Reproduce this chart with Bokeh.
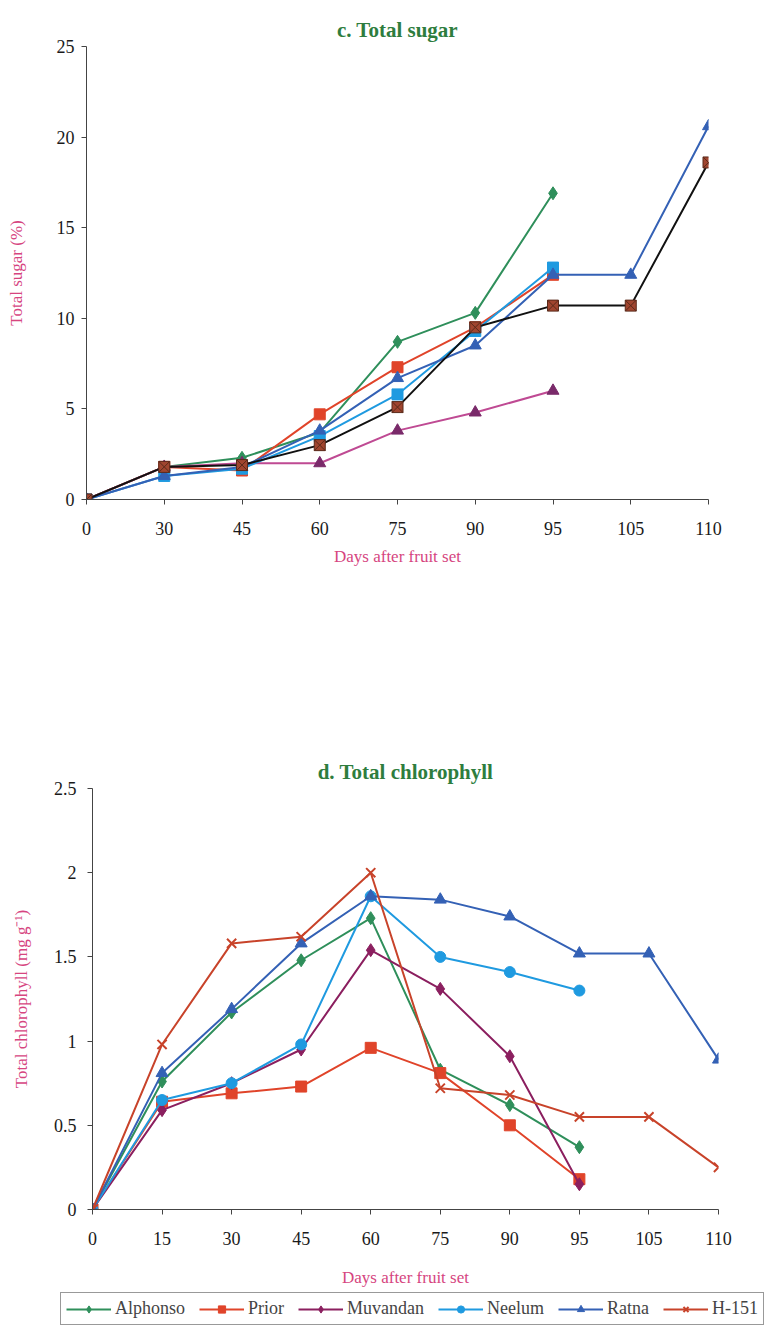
from bokeh.plotting import figure
from bokeh.layouts import column, row
from bokeh.models import Range1d, FixedTicker, Legend, LegendItem
from bokeh.embed import file_html
from bokeh.resources import INLINE

# ---------------- data ----------------
sugar_days = ["0", "30", "45", "60", "75", "90", "95", "105", "110"]
sugar_alphonso = [0, 1.8, 2.3, 3.7, 8.7, 10.3, 16.9]
sugar_prior = [0, 1.8, 1.6, 4.7, 7.3, 9.5, 12.4]
sugar_muvandan = [0, 1.8, 2.0, 2.0, 3.8, 4.8, 6.0]
sugar_neelum = [0, 1.3, 1.7, 3.5, 5.8, 9.3, 12.8]
sugar_ratna = [0, 1.3, 1.8, 3.8, 6.7, 8.5, 12.4, 12.4, 20.6]
sugar_h151 = [0, 1.8, 1.9, 3.0, 5.1, 9.5, 10.7, 10.7, 18.6]
sugar_yticks = [0, 5, 10, 15, 20, 25]

chl_days = ["0", "15", "30", "45", "60", "75", "90", "95", "105", "110"]
chl_alphonso = [0, 0.76, 1.17, 1.48, 1.73, 0.83, 0.62, 0.37]
chl_prior = [0, 0.64, 0.69, 0.73, 0.96, 0.81, 0.50, 0.18]
chl_muvandan = [0, 0.59, 0.75, 0.95, 1.54, 1.31, 0.91, 0.15]
chl_neelum = [0, 0.65, 0.75, 0.98, 1.86, 1.50, 1.41, 1.30]
chl_ratna = [0, 0.81, 1.19, 1.58, 1.86, 1.84, 1.74, 1.52, 1.52, 0.89]
chl_h151 = [0, 0.98, 1.58, 1.62, 2.0, 0.72, 0.68, 0.55, 0.55, 0.25]
chl_yticks = [0, 0.5, 1, 1.5, 2, 2.5]
chl_ylabels = ["0", "0.5", "1", "1.5", "2", "2.5"]

names = ["Alphonso", "Prior", "Muvandan", "Neelum", "Ratna", "H-151"]

SERIF = "Liberation Serif"
TITLE_C = "#2e7d3e"
LABEL_C = "#d6457f"


def style(p, days, yticks, ylabels, xl_standoff, yt_standoff, yl_standoff):
    p.xaxis.ticker = FixedTicker(ticks=list(range(len(days))))
    p.xaxis.major_label_overrides = {i: d for i, d in enumerate(days)}
    p.yaxis.ticker = FixedTicker(ticks=yticks)
    p.yaxis.major_label_overrides = {t: l for t, l in zip(yticks, ylabels)}
    for ax in (p.xaxis[0], p.yaxis[0]):
        ax.major_label_text_font = SERIF
        ax.major_label_text_font_size = "18px"
        ax.major_label_text_color = "#1a1a1a"
        ax.axis_label_text_font = SERIF
        ax.axis_label_text_font_size = "17px"
        ax.axis_label_text_font_style = "normal"
        ax.axis_label_text_color = LABEL_C
        ax.minor_tick_line_color = None
        ax.major_tick_in = 0
        ax.major_tick_out = 5
        ax.axis_line_color = "#444444"
        ax.major_tick_line_color = "#444444"
    p.xaxis.major_label_standoff = 17
    p.yaxis.major_label_standoff = yt_standoff
    p.xaxis.axis_label_standoff = xl_standoff
    p.yaxis.axis_label_standoff = yl_standoff
    p.grid.visible = False
    p.outline_line_color = None
    p.title.text_font = SERIF
    p.title.text_font_size = "21px"
    p.title.text_font_style = "bold"
    p.title.text_color = TITLE_C
    p.title.align = "center"
    p.title.standoff = 10


# ---------------- top: total sugar ----------------
p1 = figure(width=769, height=600, output_backend="svg", toolbar_location=None,
            x_range=Range1d(0, len(sugar_days) - 1), y_range=Range1d(0, 25),
            title="c. Total sugar", x_axis_label="Days after fruit set",
            y_axis_label="Total sugar (%)",
            min_border_left=86, min_border_right=61, min_border_top=46, min_border_bottom=101)
style(p1, sugar_days, sugar_yticks, [str(t) for t in sugar_yticks], 9, 7, 28)

top_series = [
    (sugar_alphonso, "#2f8f5b", "diamond", "#2f8f5b", 13),
    (sugar_prior, "#e0442a", "square", "#e0442a", 11),
    (sugar_muvandan, "#bf4a93", "triangle", "#7a2a6a", 12),
    (sugar_neelum, "#1f9ae0", "square", "#1f9ae0", 11),
    (sugar_ratna, "#3461b5", "triangle", "#3461b5", 12),
    (sugar_h151, "#111111", "square_x", "#a0452f", 11),
]
for vals, lc, mk, mc, sz in top_series:
    xs = list(range(len(vals)))
    p1.line(xs, vals, line_color=lc, line_width=2)
    p1.scatter(xs, vals, marker=mk, size=sz, fill_color=mc,
               line_color=mc if mk != "square_x" else "#5a2a1a")

# ---------------- bottom: total chlorophyll ----------------
p2 = figure(width=769, height=690, output_backend="svg", toolbar_location=None,
            x_range=Range1d(0, len(chl_days) - 1), y_range=Range1d(0, 2.5),
            title="d. Total chlorophyll", x_axis_label="Days after fruit set",
            y_axis_label="Total chlorophyll (mg g\u207b\u00b9)",
            min_border_left=92, min_border_right=51, min_border_top=188, min_border_bottom=81)
style(p2, chl_days, chl_yticks, chl_ylabels, 20, 11, 20)

bottom_series = [
    (chl_alphonso, "#2f8f5b", "diamond", 13),
    (chl_prior, "#e0442a", "square", 11),
    (chl_muvandan, "#8b1f5f", "diamond", 13),
    (chl_neelum, "#1f9ae0", "circle", 11),
    (chl_ratna, "#3461b5", "triangle", 12),
    (chl_h151, "#c8432a", "x", 13),
]
for vals, c, mk, sz in bottom_series:
    xs = list(range(len(vals)))
    p2.line(xs, vals, line_color=c, line_width=2)
    p2.scatter(xs, vals, marker=mk, size=sz, fill_color=c, line_color=c,
               line_width=2 if mk == "x" else 1)

# ---------------- legend strip (series drawn out of view; only the key shows) ----------------
p3 = figure(width=769, height=38, output_backend="svg", toolbar_location=None,
            x_axis_location=None, y_axis_location=None,
            x_range=Range1d(100, 101), y_range=Range1d(100, 101),
            min_border_left=0, min_border_right=0, min_border_top=0, min_border_bottom=0)
p3.grid.visible = False
p3.outline_line_color = None
items = []
for name, (vals, c, mk, sz) in zip(names, bottom_series):
    xs = list(range(len(vals)))
    r1 = p3.line(xs, vals, line_color=c, line_width=2)
    r2 = p3.scatter(xs, vals, marker=mk, size=sz, fill_color=c, line_color=c,
                    line_width=2 if mk == "x" else 1)
    items.append(LegendItem(label=name, renderers=[r1, r2]))

legend = Legend(items=items, orientation="horizontal", location=(60, 3),
                label_text_font=SERIF, label_text_font_size="18px",
                glyph_width=45, glyph_height=18, label_standoff=4, spacing=14,
                padding=5, margin=0, border_line_color="#333333", border_line_width=1)
p3.add_layout(legend)

layout = column(row(p1), row(p2), row(p3), spacing=0)
open("out.html", "w").write(file_html(layout, INLINE))
